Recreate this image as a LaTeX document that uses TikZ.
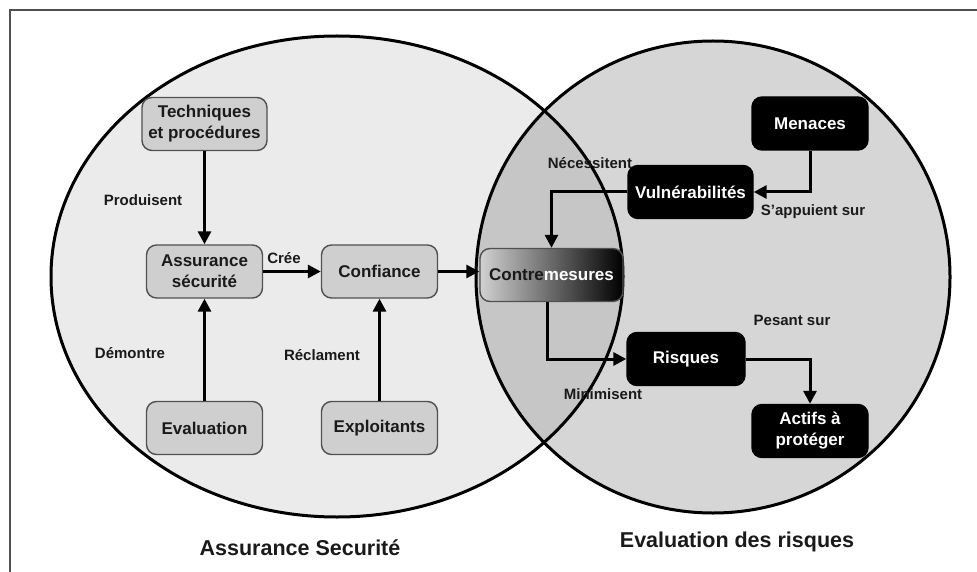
\documentclass[tikz,border=0pt]{standalone}
\usepackage{fontspec}
\setmainfont{Liberation Sans}
\usetikzlibrary{arrows.meta}

\definecolor{leftfill}{HTML}{EBEBEB}
\definecolor{rightfill}{HTML}{D6D6D6}
\definecolor{interfill}{HTML}{C6C6C6}
\definecolor{boxfill}{HTML}{CFCFCF}
\definecolor{boxline}{HTML}{505050}
\definecolor{txtdark}{HTML}{1A1A1A}
\definecolor{framecol}{HTML}{505050}

\tikzset{
  base/.style={rounded corners=10pt, minimum height=53pt, inner xsep=3pt,
    align=center, font=\bfseries\fontsize{17}{21}\selectfont},
  graybox/.style={base, fill=boxfill, draw=boxline, line width=1.4pt,
    text=txtdark, minimum width=116pt},
  blackbox/.style={base, fill=black, draw=black, line width=1.4pt,
    text=white, minimum width=116pt},
  lbl/.style={font=\bfseries\fontsize{15}{18}\selectfont, text=txtdark, inner sep=0pt},
  title/.style={font=\bfseries\fontsize{21.5}{25}\selectfont, text=txtdark, inner sep=0pt},
  arr/.style={line width=3pt, -{Triangle[length=13pt, width=13pt]}, black},
  ring/.style={line width=3pt, black}
}

\begin{document}
\begin{tikzpicture}[x=1pt, y=-1pt]
  \useasboundingbox (0,0) rectangle (977,572);
  \clip (0,0) rectangle (977,572);

  % outer frame (runs past the right and bottom edges)
  \draw[framecol, line width=1.3pt] (10,10) rectangle (1010,610);

  % the two domains and their overlap
  \fill[leftfill] (337,276.5) ellipse [x radius=286, y radius=240.5];
  \fill[rightfill] (713,277) ellipse [x radius=237, y radius=236];
  \begin{scope}
    \clip (337,276.5) ellipse [x radius=286, y radius=240.5];
    \fill[interfill] (713,277) ellipse [x radius=237, y radius=236];
  \end{scope}
  \draw[ring] (337,276.5) ellipse [x radius=286, y radius=240.5];
  \draw[ring] (713,277) ellipse [x radius=237, y radius=236];

  % security assurance side
  \node[graybox, minimum width=125pt] (tech) at (204.5,124) {Techniques\\et procédures};
  \node[graybox] (ass) at (204.5,271.5) {Assurance\\sécurité};
  \node[graybox] (conf) at (379.5,271.5) {Confiance};
  \node[graybox] (eva) at (204.5,428) {Evaluation};
  \node[graybox] (expl) at (379.5,428) {Exploitants};

  % countermeasures, shared by both sides
  \node[base, minimum width=143pt, draw=boxline, line width=1.4pt,
        left color=boxfill!95!white, middle color=black!72, right color=black]
        (cm) at (551.5,275) {\textcolor{txtdark}{Contre}\textcolor{white}{mesures}};

  % risk assessment side
  \node[blackbox] (men) at (810,123.5) {Menaces};
  \node[blackbox, minimum width=125pt] (vul) at (690.5,192) {Vulnérabilités};
  \node[blackbox, minimum width=118pt] (ris) at (686,359) {Risques};
  \node[blackbox] (act) at (810,431) {Actifs à\\protéger};

  % connectors
  \draw[arr] (tech.south) -- (ass.north);
  \draw[arr] (eva.north) -- (ass.south);
  \draw[arr] (ass.east) -- (conf.west);
  \draw[arr] (expl.north) -- (conf.south);
  \draw[arr] (conf.east) -- (conf.east -| cm.west);
  \draw[arr] (men.south) |- (vul.east);
  \draw[arr] (vul.west) -| (cm.north);
  \draw[arr] ([xshift=-4pt]cm.south) |- (ris.west);
  \draw[arr] (ris.east) -| (act.north);

  % connector labels
  \node[lbl] (lprod) at (143,200) {Produisent};
  \node[lbl] (lcree) at (284,258) {Crée};
  \node[lbl] (ldem) at (130,353) {Démontre};
  \node[lbl] (lrec) at (322,355) {Réclament};
  \node[lbl] (lnec) at (590,163) {Nécessitent};
  \node[lbl] (lapp) at (813,212) {S'appuient sur};
  \node[lbl] (lpes) at (792,320) {Pesant sur};
  \node[lbl] (lmin) at (603,394) {Minimisent};

  % domain titles
  \node[title] (tas) at (300,548) {Assurance Securité};
  \node[title] (tev) at (737,542) {Evaluation des risques};
\end{tikzpicture}
\end{document}
